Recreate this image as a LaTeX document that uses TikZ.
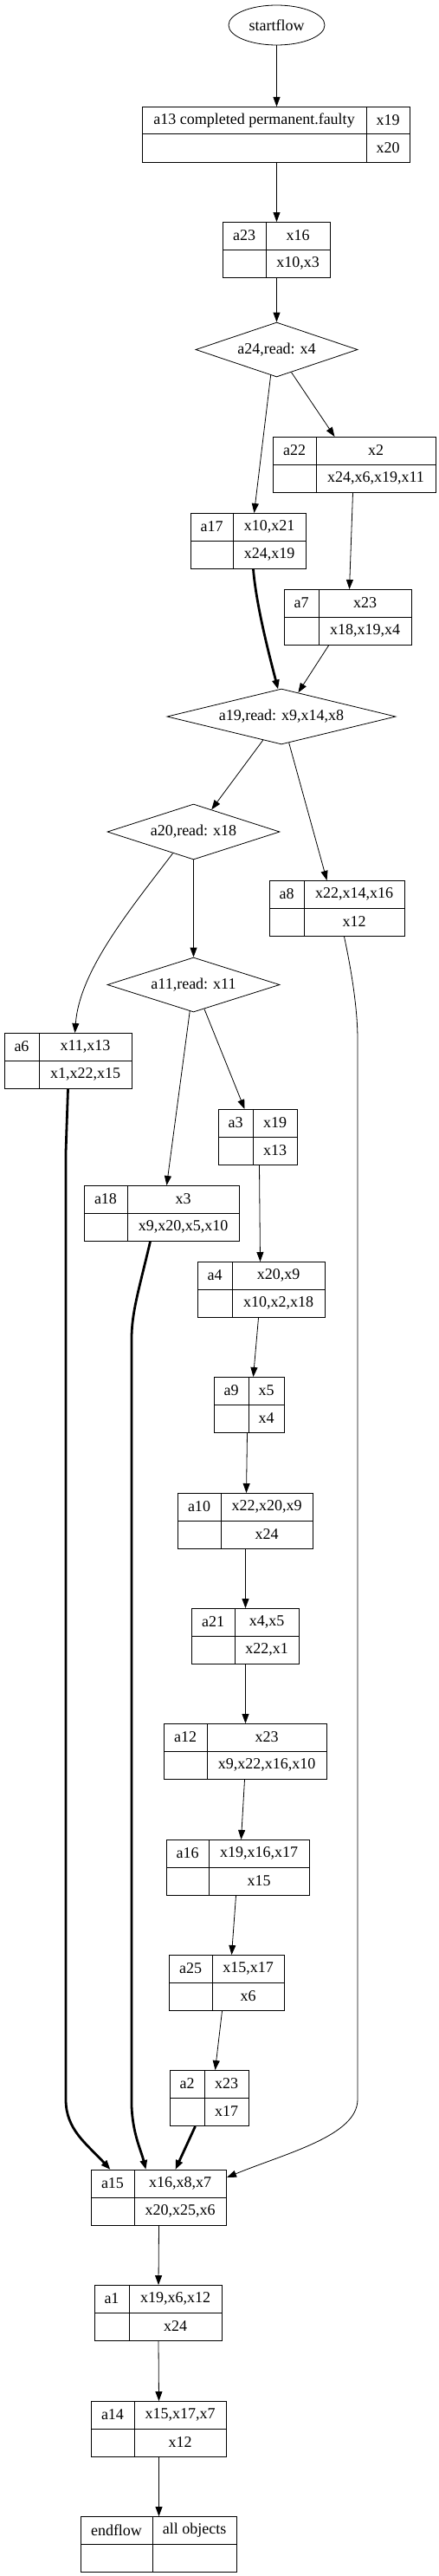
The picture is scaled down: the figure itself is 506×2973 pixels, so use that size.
\documentclass[tikz,border=0pt]{standalone}
\usepackage{fontspec}
\setmainfont{Liberation Serif}
\usetikzlibrary{shapes.geometric,arrows.meta}
\tikzset{
 recbox/.style={draw, line width=1pt, rectangle, inner sep=0pt},
 recline/.style={line width=1pt},
 txt/.style={inner sep=0pt},
 dia/.style={draw, diamond, line width=0.8pt, inner sep=0pt},
 startnode/.style={draw, ellipse, line width=0.8pt, inner sep=0pt},
 edge/.style={line width=0.8pt, -{Triangle[length=11pt,width=8pt]}},
 thickedge/.style={line width=2.8pt, -{Triangle[length=11pt,width=8pt]}},
}
% #1 name, #2 left x, #3 divider x, #4 right x, #5 top y, #6 label, #7 right top, #8 right bottom
\newcommand{\recnode}[8]{%
  \node[recbox, minimum width={(#4-#2)*1pt}, minimum height=64pt, anchor=north west] (#1) at ({#2},{#5}) {};
  \draw[recline] ({#3},{#5}) -- ({#3},{#5+64});
  \draw[recline] ({#2},{#5+32}) -- ({#4},{#5+32});
  \node[txt] (#1-l) at ({(#2+#3)/2},{#5+16}) {#6};
  \node[txt] (#1-t) at ({(#3+#4)/2},{#5+16}) {#7};
  \node[txt] (#1-b) at ({(#3+#4)/2},{#5+48}) {#8};
}
\begin{document}
\begin{tikzpicture}[x=1pt,y=-1pt,font=\fontsize{18}{21}\selectfont]
\useasboundingbox (0,0) rectangle (506,2973);

% nodes
\node[startnode, minimum width=111pt, minimum height=46pt] (startflow) at (319.5,29) {startflow};
\recnode{a13}{164}{423}{473}{123}{a13 completed permanent.faulty}{x19}{x20}
\recnode{a23}{257}{307}{381}{256}{a23}{x16}{x10,x3}
\node[dia, minimum width=187pt, minimum height=63pt, label={center:a24,read: x4}] (a24) at (319.5,403.5) {};
\recnode{a22}{315}{365}{503}{504}{a22}{x2}{x24,x6,x19,x11}
\recnode{a17}{220}{269}{353}{592}{a17}{x10,x21}{x24,x19}
\recnode{a7}{328}{368}{475}{680}{a7}{x23}{x18,x19,x4}
\node[dia, minimum width=264pt, minimum height=64pt, label={center:a19,read: x9,x14,x8}] (a19) at (325,827) {};
\node[dia, minimum width=199pt, minimum height=64pt, label={center:a20,read: x18}] (a20) at (223.5,960) {};
\recnode{a8}{311}{351}{467}{1016}{a8}{x22,x14,x16}{x12}
\node[dia, minimum width=199pt, minimum height=63pt, label={center:a11,read: x11}] (a11) at (223.5,1136.5) {};
\recnode{a6}{5}{45}{152}{1192}{a6}{x11,x13}{x1,x22,x15}
\recnode{a3}{252}{292}{343}{1280}{a3}{x19}{x13}
\recnode{a18}{97}{147}{276}{1368}{a18}{x3}{x9,x20,x5,x10}
\recnode{a4}{228}{268}{375}{1456}{a4}{x20,x9}{x10,x2,x18}
\recnode{a9}{247}{287}{328}{1589}{a9}{x5}{x4}
\recnode{a10}{205}{255}{361}{1723}{a10}{x22,x20,x9}{x24}
\recnode{a21}{221}{271}{345}{1856}{a21}{x4,x5}{x22,x1}
\recnode{a12}{189}{239}{377}{1989}{a12}{x23}{x9,x22,x16,x10}
\recnode{a16}{192}{241}{357}{2123}{a16}{x19,x16,x17}{x15}
\recnode{a25}{195}{245}{328}{2256}{a25}{x15,x17}{x6}
\recnode{a2}{196}{236}{287}{2389}{a2}{x23}{x17}
\recnode{a15}{105}{155}{261}{2504}{a15}{x16,x8,x7}{x20,x25,x6}
\recnode{a1}{109}{149}{256}{2637}{a1}{x19,x6,x12}{x24}
\recnode{a14}{105}{155}{261}{2771}{a14}{x15,x17,x7}{x12}
\recnode{endflow}{93}{176}{273}{2904}{endflow}{all objects}{}

% edges
\draw[edge] (startflow.south) -- (startflow.south |- a13.north);
\draw[edge] (a23.north |- a13.south) -- (a23.north);
\draw[edge] (a23.south) -- (a24.north);
\draw[edge] (a24.-103) -- ([xshift=6.5pt]a17.north);
\draw[edge] (a24.-57) -- ([xshift=-23pt]a22.north);
\draw[edge] ([xshift=-2pt]a22.south) -- ([xshift=1.5pt]a7.north);
\draw[thickedge] ([xshift=5.5pt]a17.south) .. controls (296,700) and (312,760) .. (a19.97);
\draw[edge] ([xshift=-22.5pt]a7.south) -- (a19.55);
\draw[edge] (a19.-128) -- (a20.51);
\draw[edge] (a19.-74) -- ([xshift=-12pt]a8.north);
\draw[edge] (a20.-134) .. controls (150,1050) and (92,1120) .. ([xshift=7.5pt]a6.north);
\draw[edge] (a20.south) -- (a11.north);
\draw[edge] (a11.-98) -- ([xshift=5.5pt]a18.north);
\draw[edge] (a11.-66) -- ([xshift=-15.5pt]a3.north);
\draw[edge] ([xshift=1.5pt]a3.south) -- ([xshift=-1.5pt]a4.north);
\draw[edge] ([xshift=-3.5pt]a4.south) -- ([xshift=4.5pt]a9.north);
\draw[edge] ([xshift=-2.5pt]a9.south) -- ([xshift=1pt]a10.north);
\draw[edge] (a10.south) -- (a21.north);
\draw[edge] (a21.south) -- (a12.north);
\draw[edge] ([xshift=-1pt]a12.south) -- ([xshift=3.5pt]a16.north);
\draw[edge] ([xshift=-2.5pt]a16.south) -- ([xshift=5.5pt]a25.north);
\draw[edge] ([xshift=-5.5pt]a25.south) -- ([xshift=6.5pt]a2.north);
\draw[thickedge] ([xshift=-16.5pt]a2.south) -- ([xshift=19pt]a15.north);
\draw[thickedge] ([xshift=-0.5pt]a6.south) -- (76,1330) -- (76,2423) .. controls (76,2458) and (100,2474) .. ([xshift=-56pt]a15.north);
\draw[thickedge] ([xshift=-13.5pt]a18.south) .. controls (160,1490) and (152,1515) .. (152,1545) -- (152,2430) .. controls (153,2462) and (163,2482) .. ([xshift=-15pt]a15.north);
\draw[edge] ([xshift=8pt]a8.south) .. controls (408,1130) and (413,1170) .. (413,1200) -- (413,2423) .. controls (413,2465) and (330,2485) .. ([yshift=-9pt]a15.north east);
\draw[edge] (a15.south) -- (a1.north);
\draw[edge] (a1.south) -- (a14.north);
\draw[edge] (a14.south) -- (endflow.north);
\end{tikzpicture}
\end{document}
